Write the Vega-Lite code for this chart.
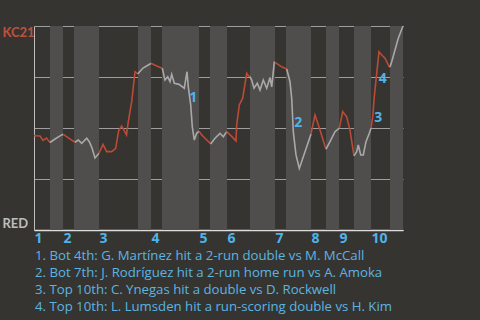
{
  "$schema": "https://vega.github.io/schema/vega-lite/v6.json",
  "width": 369,
  "height": 204,
  "autosize": {"type": "none"},
  "padding": {"left": 34, "top": 26, "right": 77, "bottom": 90},
  "background": "#363430",
  "config": {"view": {"stroke": null}, "font": "Open Sans"},
  "title": {
    "text": [
      "1. Bot 4th: G. Martínez hit a 2-run double vs M. McCall",
      "2. Bot 7th: J. Rodríguez hit a 2-run home run vs A. Amoka",
      "3. Top 10th: C. Ynegas hit a double vs D. Rockwell",
      "4. Top 10th: L. Lumsden hit a run-scoring double vs H. Kim"
    ],
    "orient": "bottom",
    "anchor": "start",
    "frame": "group",
    "dx": 1,
    "font": "Open Sans",
    "fontSize": 13.2,
    "fontWeight": "normal",
    "lineHeight": 17,
    "color": "#5bb5e3",
    "offset": 5
  },
  "datasets": {
    "stripes": [
      {"start": 16, "end": 29}, {"start": 40, "end": 65}, {"start": 104, "end": 117},
      {"start": 128, "end": 165}, {"start": 176, "end": 193}, {"start": 216, "end": 241},
      {"start": 252, "end": 277}, {"start": 292, "end": 305}, {"start": 320, "end": 337},
      {"start": 356, "end": 369}
    ],
    "wp": [
      {"x": 0, "p": 46.2, "half": "1T", "team": "KC21"},
      {"x": 6, "p": 46.1, "half": "1T", "team": "KC21"},
      {"x": 9, "p": 43.9, "half": "1T", "team": "KC21"},
      {"x": 12.5, "p": 45.1, "half": "1T", "team": "KC21"},
      {"x": 16, "p": 42.9, "half": "1T", "team": "KC21"},
      {"x": 16, "p": 42.9, "half": "1B", "team": "RED"},
      {"x": 21, "p": 44.6, "half": "1B", "team": "RED"},
      {"x": 27.7, "p": 46.6, "half": "1B", "team": "RED"},
      {"x": 29.3, "p": 46.9, "half": "1B", "team": "RED"},
      {"x": 29.3, "p": 46.9, "half": "2T", "team": "KC21"},
      {"x": 34, "p": 45.3, "half": "2T", "team": "KC21"},
      {"x": 41, "p": 43.0, "half": "2T", "team": "KC21"},
      {"x": 41, "p": 43.0, "half": "2B", "team": "RED"},
      {"x": 44.3, "p": 44.1, "half": "2B", "team": "RED"},
      {"x": 47.7, "p": 42.5, "half": "2B", "team": "RED"},
      {"x": 52.7, "p": 45.0, "half": "2B", "team": "RED"},
      {"x": 55.3, "p": 43.3, "half": "2B", "team": "RED"},
      {"x": 58, "p": 40.2, "half": "2B", "team": "RED"},
      {"x": 61, "p": 35.3, "half": "2B", "team": "RED"},
      {"x": 65, "p": 37.6, "half": "2B", "team": "RED"},
      {"x": 65, "p": 37.6, "half": "3T", "team": "KC21"},
      {"x": 69, "p": 42.0, "half": "3T", "team": "KC21"},
      {"x": 72.7, "p": 38.4, "half": "3T", "team": "KC21"},
      {"x": 77.7, "p": 38.4, "half": "3T", "team": "KC21"},
      {"x": 81.7, "p": 40.0, "half": "3T", "team": "KC21"},
      {"x": 84.7, "p": 48.8, "half": "3T", "team": "KC21"},
      {"x": 87.7, "p": 51.0, "half": "3T", "team": "KC21"},
      {"x": 92.5, "p": 46.6, "half": "3T", "team": "KC21"},
      {"x": 94.3, "p": 53.1, "half": "3T", "team": "KC21"},
      {"x": 97.7, "p": 62.9, "half": "3T", "team": "KC21"},
      {"x": 101, "p": 77.6, "half": "3T", "team": "KC21"},
      {"x": 103.7, "p": 76.5, "half": "3T", "team": "KC21"},
      {"x": 103.7, "p": 76.5, "half": "3B", "team": "RED"},
      {"x": 109, "p": 79.4, "half": "3B", "team": "RED"},
      {"x": 116, "p": 81.4, "half": "3B", "team": "RED"},
      {"x": 117, "p": 81.7, "half": "3B", "team": "RED"},
      {"x": 117, "p": 81.7, "half": "4T", "team": "KC21"},
      {"x": 122.7, "p": 80.4, "half": "4T", "team": "KC21"},
      {"x": 128.3, "p": 79.3, "half": "4T", "team": "KC21"},
      {"x": 128.3, "p": 79.3, "half": "4B", "team": "RED"},
      {"x": 131, "p": 73.5, "half": "4B", "team": "RED"},
      {"x": 133.7, "p": 75.1, "half": "4B", "team": "RED"},
      {"x": 136, "p": 72.7, "half": "4B", "team": "RED"},
      {"x": 137.7, "p": 76.3, "half": "4B", "team": "RED"},
      {"x": 140.3, "p": 71.9, "half": "4B", "team": "RED"},
      {"x": 145, "p": 71.4, "half": "4B", "team": "RED"},
      {"x": 150.3, "p": 69.5, "half": "4B", "team": "RED"},
      {"x": 153, "p": 77.6, "half": "4B", "team": "RED"},
      {"x": 154.3, "p": 70.2, "half": "4B", "team": "RED"},
      {"x": 156.7, "p": 61.3, "half": "4B", "team": "RED"},
      {"x": 158.3, "p": 50.6, "half": "4B", "team": "RED"},
      {"x": 160.3, "p": 44.1, "half": "4B", "team": "RED"},
      {"x": 162.7, "p": 47.4, "half": "4B", "team": "RED"},
      {"x": 165, "p": 48.5, "half": "4B", "team": "RED"},
      {"x": 165, "p": 48.5, "half": "5T", "team": "KC21"},
      {"x": 167.7, "p": 46.6, "half": "5T", "team": "KC21"},
      {"x": 171, "p": 45.0, "half": "5T", "team": "KC21"},
      {"x": 176.7, "p": 42.2, "half": "5T", "team": "KC21"},
      {"x": 176.7, "p": 42.2, "half": "5B", "team": "RED"},
      {"x": 181, "p": 45.0, "half": "5B", "team": "RED"},
      {"x": 186, "p": 47.4, "half": "5B", "team": "RED"},
      {"x": 189.3, "p": 45.7, "half": "5B", "team": "RED"},
      {"x": 192.7, "p": 48.2, "half": "5B", "team": "RED"},
      {"x": 192.7, "p": 48.2, "half": "6T", "team": "KC21"},
      {"x": 198.7, "p": 45.4, "half": "6T", "team": "KC21"},
      {"x": 202, "p": 43.6, "half": "6T", "team": "KC21"},
      {"x": 202.7, "p": 51.5, "half": "6T", "team": "KC21"},
      {"x": 205.3, "p": 61.3, "half": "6T", "team": "KC21"},
      {"x": 208.7, "p": 64.6, "half": "6T", "team": "KC21"},
      {"x": 210, "p": 68.6, "half": "6T", "team": "KC21"},
      {"x": 212.7, "p": 76.8, "half": "6T", "team": "KC21"},
      {"x": 214.3, "p": 75.6, "half": "6T", "team": "KC21"},
      {"x": 216, "p": 75.2, "half": "6T", "team": "KC21"},
      {"x": 216, "p": 75.2, "half": "6B", "team": "RED"},
      {"x": 217.7, "p": 73.5, "half": "6B", "team": "RED"},
      {"x": 220, "p": 69.5, "half": "6B", "team": "RED"},
      {"x": 223.3, "p": 71.9, "half": "6B", "team": "RED"},
      {"x": 226, "p": 68.6, "half": "6B", "team": "RED"},
      {"x": 229.3, "p": 73.5, "half": "6B", "team": "RED"},
      {"x": 232.7, "p": 69.5, "half": "6B", "team": "RED"},
      {"x": 236, "p": 74.7, "half": "6B", "team": "RED"},
      {"x": 237.7, "p": 70.2, "half": "6B", "team": "RED"},
      {"x": 240.3, "p": 82.2, "half": "6B", "team": "RED"},
      {"x": 241, "p": 82.2, "half": "6B", "team": "RED"},
      {"x": 241, "p": 82.2, "half": "7T", "team": "KC21"},
      {"x": 247.7, "p": 80.0, "half": "7T", "team": "KC21"},
      {"x": 252.7, "p": 78.9, "half": "7T", "team": "KC21"},
      {"x": 252.7, "p": 78.9, "half": "7B", "team": "RED"},
      {"x": 256, "p": 72.7, "half": "7B", "team": "RED"},
      {"x": 257.7, "p": 64.6, "half": "7B", "team": "RED"},
      {"x": 259.3, "p": 48.2, "half": "7B", "team": "RED"},
      {"x": 262, "p": 36.8, "half": "7B", "team": "RED"},
      {"x": 265.3, "p": 30.2, "half": "7B", "team": "RED"},
      {"x": 269.3, "p": 35.9, "half": "7B", "team": "RED"},
      {"x": 273.3, "p": 41.7, "half": "7B", "team": "RED"},
      {"x": 277, "p": 47.1, "half": "7B", "team": "RED"},
      {"x": 277, "p": 47.1, "half": "8T", "team": "KC21"},
      {"x": 281, "p": 56.4, "half": "8T", "team": "KC21"},
      {"x": 286, "p": 49.0, "half": "8T", "team": "KC21"},
      {"x": 292, "p": 39.6, "half": "8T", "team": "KC21"},
      {"x": 292, "p": 39.6, "half": "8B", "team": "RED"},
      {"x": 296, "p": 43.3, "half": "8B", "team": "RED"},
      {"x": 301, "p": 48.2, "half": "8B", "team": "RED"},
      {"x": 305.3, "p": 49.9, "half": "8B", "team": "RED"},
      {"x": 305.3, "p": 49.9, "half": "9T", "team": "KC21"},
      {"x": 308.7, "p": 58.0, "half": "9T", "team": "KC21"},
      {"x": 312.7, "p": 55.5, "half": "9T", "team": "KC21"},
      {"x": 316, "p": 49.0, "half": "9T", "team": "KC21"},
      {"x": 320, "p": 36.3, "half": "9T", "team": "KC21"},
      {"x": 320, "p": 36.3, "half": "9B", "team": "RED"},
      {"x": 322.7, "p": 38.4, "half": "9B", "team": "RED"},
      {"x": 324.3, "p": 41.7, "half": "9B", "team": "RED"},
      {"x": 326.7, "p": 36.8, "half": "9B", "team": "RED"},
      {"x": 329.3, "p": 36.8, "half": "9B", "team": "RED"},
      {"x": 332, "p": 43.3, "half": "9B", "team": "RED"},
      {"x": 335.3, "p": 47.4, "half": "9B", "team": "RED"},
      {"x": 337, "p": 49.9, "half": "9B", "team": "RED"},
      {"x": 337, "p": 49.9, "half": "10T", "team": "KC21"},
      {"x": 338.7, "p": 55.5, "half": "10T", "team": "KC21"},
      {"x": 340.3, "p": 65.3, "half": "10T", "team": "KC21"},
      {"x": 342.7, "p": 76.8, "half": "10T", "team": "KC21"},
      {"x": 345, "p": 87.4, "half": "10T", "team": "KC21"},
      {"x": 347.7, "p": 85.8, "half": "10T", "team": "KC21"},
      {"x": 351, "p": 84.2, "half": "10T", "team": "KC21"},
      {"x": 355.3, "p": 80.0, "half": "10T", "team": "KC21"},
      {"x": 356, "p": 79.9, "half": "10T", "team": "KC21"},
      {"x": 356, "p": 79.9, "half": "10B", "team": "RED"},
      {"x": 357.7, "p": 82.5, "half": "10B", "team": "RED"},
      {"x": 361, "p": 88.2, "half": "10B", "team": "RED"},
      {"x": 364.3, "p": 94.0, "half": "10B", "team": "RED"},
      {"x": 369, "p": 100, "half": "10B", "team": "RED"}
    ],
    "notes": [
      {"x": 159.3, "p": 64.6, "label": "1"},
      {"x": 264.3, "p": 52.3, "label": "2"},
      {"x": 344.3, "p": 54.8, "label": "3"},
      {"x": 348.7, "p": 73.9, "label": "4"}
    ]
  },
  "layer": [
    {
      "data": {"name": "stripes"},
      "mark": {"type": "rect", "color": "#4f4e4c"},
      "encoding": {
        "x": {
          "field": "start", "type": "quantitative",
          "scale": {"domain": [0, 369], "nice": false, "zero": false},
          "axis": {
            "values": [0, 29, 65, 117, 165, 193, 241, 277, 305, 337],
            "labelExpr": "indexof([0, 29, 65, 117, 165, 193, 241, 277, 305, 337], datum.value) + 1",
            "title": null,
            "grid": false,
            "ticks": false,
            "domain": true,
            "domainColor": "#dddddd",
            "domainWidth": 1.5,
            "labelAlign": "left",
            "labelColor": "#4fb3ea",
            "labelFont": "Open Sans",
            "labelFontSize": 14,
            "labelFontWeight": "bold",
            "labelPadding": 1,
            "labelFlush": false,
            "labelOverlap": false
          }
        },
        "x2": {"field": "end"}
      }
    },
    {
      "data": {"name": "wp"},
      "mark": {"type": "line", "strokeWidth": 1.6, "interpolate": "linear"},
      "encoding": {
        "x": {"field": "x", "type": "quantitative"},
        "y": {
          "field": "p", "type": "quantitative",
          "scale": {"domain": [0, 100], "nice": false},
          "axis": {
            "values": [0, 25, 50, 75, 100],
            "labelExpr": "datum.value == 100 ? 'KC21' : (datum.value == 0 ? 'RED' : '')",
            "title": null,
            "grid": true,
            "gridColor": "#9e9e9e",
            "gridWidth": 1,
            "ticks": false,
            "domain": true,
            "domainColor": "#bdbdbd",
            "labelFlush": true,
            "labelFont": "Lato",
            "labelFontSize": 13,
            "labelFontWeight": "bold",
            "labelAlign": "left",
            "labelPadding": 32,
            "labelColor": {"condition": {"test": "datum.value == 100", "value": "#c0513c"}, "value": "#bdbdbd"}
          }
        },
        "color": {
          "field": "team", "type": "nominal",
          "scale": {"domain": ["KC21", "RED"], "range": ["#bb4b36", "#a9a9a9"]},
          "legend": null
        },
        "detail": {"field": "half"}
      }
    },
    {
      "data": {"name": "notes"},
      "mark": {"type": "text", "color": "#4fb3ea", "font": "Open Sans", "fontSize": 14, "fontWeight": "bold"},
      "encoding": {
        "x": {"field": "x", "type": "quantitative"},
        "y": {"field": "p", "type": "quantitative"},
        "text": {"field": "label"}
      }
    }
  ]
}
